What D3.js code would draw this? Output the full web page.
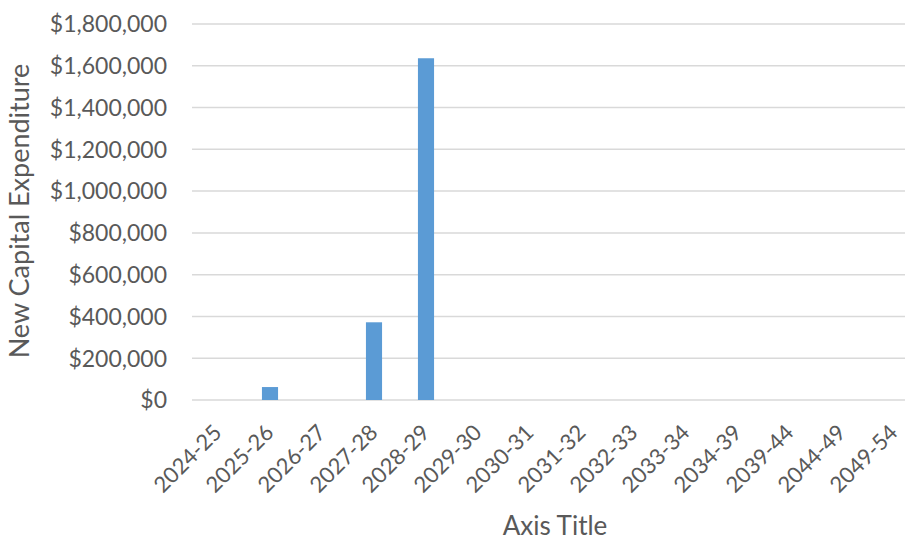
<!DOCTYPE html>
<meta charset="utf-8">
<style>
  body { margin: 0; background: #fff; }
  text { font-family: Lato, "Open Sans", sans-serif; fill: #595959; }
</style>
<svg width="905" height="541"></svg>
<script src="https://d3js.org/d3.v7.min.js"></script>
<script>
var years = ["2024-25", "2025-26", "2026-27", "2027-28", "2028-29", "2029-30", "2030-31",
  "2031-32", "2032-33", "2033-34", "2034-39", "2039-44", "2044-49", "2049-54"]
var capex = [0, 62000, 0, 372000, 1636000, 0, 0, 0, 0, 0, 0, 0, 0, 0]
var yTicks = [0, 200000, 400000, 600000, 800000, 1000000, 1200000, 1400000, 1600000, 1800000]

var svg = d3.select('svg')

var x = d3.scaleBand().domain(years).range([192, 920]).paddingInner(0.69).paddingOuter(0.345)
var y = d3.scaleLinear().domain([0, 1800000]).range([400, 24])

var fmt = function (v) { return '$' + d3.format(',')(v) }

// gridlines
svg.append('g').selectAll('line')
  .data(yTicks)
  .enter().append('line')
  .attr('x1', 192).attr('x2', 920)
  .attr('y1', function (d) { return y(d) }).attr('y2', function (d) { return y(d) })
  .attr('stroke', '#d9d9d9').attr('stroke-width', 1.5)

// y tick labels
svg.append('g').selectAll('text')
  .data(yTicks)
  .enter().append('text')
  .attr('x', 167).attr('y', function (d) { return y(d) })
  .attr('dy', '0.36em')
  .attr('text-anchor', 'end')
  .attr('font-size', 23)
  .text(fmt)

// bars
svg.append('g').selectAll('rect')
  .data(years)
  .enter().append('rect')
  .attr('x', function (d) { return x(d) })
  .attr('width', x.bandwidth())
  .attr('y', function (d, i) { return y(capex[i]) })
  .attr('height', function (d, i) { return y(0) - y(capex[i]) })
  .attr('fill', '#5b9bd5')

// x labels
svg.append('g').selectAll('text')
  .data(years)
  .enter().append('text')
  .attr('transform', function (d) {
    return 'translate(' + (x(d) + x.bandwidth() / 2 + 5) + ',434) rotate(-45)'
  })
  .attr('text-anchor', 'end')
  .attr('font-size', 22)
  .text(function (d) { return d })

// axis titles
svg.append('text')
  .attr('transform', 'translate(29,211) rotate(-90)')
  .attr('text-anchor', 'middle')
  .attr('font-size', 27)
  .text('New Capital Expenditure')

svg.append('text')
  .attr('x', 555).attr('y', 535)
  .attr('text-anchor', 'middle')
  .attr('font-size', 26)
  .text('Axis Title')
</script>
